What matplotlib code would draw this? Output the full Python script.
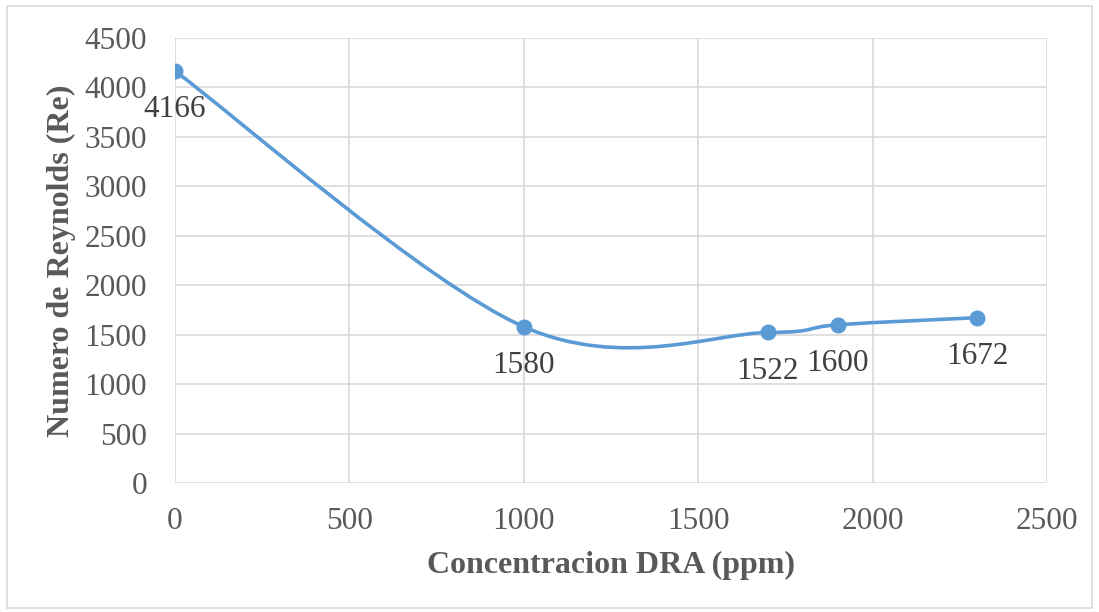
import numpy as np
import matplotlib.pyplot as plt
from matplotlib.path import Path
from matplotlib.patches import PathPatch, Rectangle

plt.rcParams['font.family'] = ['Liberation Serif', 'DejaVu Serif']

# datos
conc = [0, 1000, 1700, 1900, 2300]
reynolds = [4166, 1580, 1522, 1600, 1672]
x_ticks = [0, 500, 1000, 1500, 2000, 2500]
y_ticks = list(range(0, 4501, 500))

azul = '#5B9BD5'
gris_txt = '#595959'
gris_lin = '#D9D9D9'

fig = plt.figure(figsize=(10.99, 6.12), dpi=100)
ax = fig.add_axes([0.1592, 0.2108, 0.7935, 0.7271])

# curva suavizada (bezier tipo Excel)
pts = np.column_stack([conc, reynolds]).astype(float)
verts = [pts[0]]
codes = [Path.MOVETO]
n = len(pts)
for i in range(n - 1):
    p0 = pts[i - 1] if i > 0 else pts[i]
    p1 = pts[i]
    p2 = pts[i + 1]
    p3 = pts[i + 2] if i + 2 < n else pts[i + 1]
    c1 = p1 + (p2 - p0) / 6
    c2 = p2 - (p3 - p1) / 6
    verts += [c1, c2, p2]
    codes += [Path.CURVE4] * 3
ax.add_patch(PathPatch(Path(verts, codes), fill=False, edgecolor=azul,
                       lw=2.6, capstyle='round', zorder=3))
ax.plot(conc, reynolds, 'o', color=azul, ms=10.5, zorder=4)

for xv, yv in zip(conc, reynolds):
    ax.annotate(str(yv), (xv, yv), xytext=(0, -28), textcoords='offset points',
                ha='center', va='center', fontsize=22.5, color='#404040', zorder=5)

ax.set_xlim(0, 2500)
ax.set_ylim(0, 4500)
ax.set_xticks(x_ticks)
ax.set_yticks(y_ticks)
ax.grid(True, color=gris_lin, lw=1.2)
ax.set_axisbelow(True)
for s in ax.spines.values():
    s.set_visible(False)
ax.tick_params(length=0, labelsize=22.5, labelcolor=gris_txt)
ax.tick_params(axis='x', pad=17)
ax.tick_params(axis='y', pad=20)

ax.set_xlabel('Concentracion DRA (ppm)', fontsize=23, fontweight='bold',
              color=gris_txt, labelpad=11)
ax.set_ylabel('Numero de Reynolds (Re)', fontsize=23, fontweight='bold',
              color=gris_txt, labelpad=6)

fig.patches.append(Rectangle((0.006, 0.006), 0.988, 0.985, transform=fig.transFigure,
                             fill=False, edgecolor=gris_lin, lw=1.2))

fig.savefig('out.png', dpi=100)
